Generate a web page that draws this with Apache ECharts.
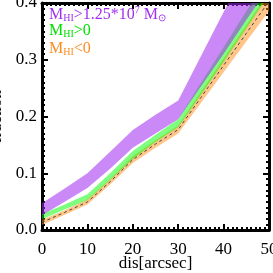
<!DOCTYPE html>
<html><head><meta charset="utf-8">
<script src="https://cdn.jsdelivr.net/npm/echarts@6/dist/echarts.min.js"></script>
<style>html,body{margin:0;padding:0;background:#fff}#c{width:273px;height:273px}</style>
</head><body><div id="c"></div>
<script>
const xs = [0, 5, 10, 15, 20, 25, 30, 35, 40, 45, 50];
const purpleLow  = [0.026, 0.050, 0.074, 0.108, 0.145, 0.170, 0.195, 0.253, 0.310, 0.370, 0.428];
const purpleHigh = [0.047, 0.073, 0.100, 0.138, 0.176, 0.203, 0.228, 0.306, 0.384, 0.460, 0.540];
const greenLow   = [0.019, 0.036, 0.053, 0.088, 0.125, 0.155, 0.181, 0.238, 0.296, 0.355, 0.414];
const greenHigh  = [0.028, 0.045, 0.063, 0.100, 0.139, 0.168, 0.195, 0.259, 0.322, 0.386, 0.449];
const orangeLow  = [0.009, 0.027, 0.045, 0.080, 0.118, 0.145, 0.170, 0.224, 0.278, 0.332, 0.386];
const orangeHigh = [0.018, 0.035, 0.054, 0.090, 0.130, 0.158, 0.184, 0.243, 0.302, 0.361, 0.420];
const xTicks = [0, 10, 20, 30, 40, 50];
const yTicks = ['0.0', '0.1', '0.2', '0.3', '0.4'];

const mid = (lo, hi) => xs.map((x, i) => [x, (lo[i] + hi[i]) / 2]);

function band(name, lo, hi, color) {
  return {
    type: 'custom', name: name, clip: true, silent: true,
    data: [[xs[0], lo[0]]],
    renderItem: function (params, api) {
      const pts = [];
      for (let i = 0; i < xs.length; i++) pts.push(api.coord([xs[i], hi[i]]));
      for (let i = xs.length - 1; i >= 0; i--) pts.push(api.coord([xs[i], lo[i]]));
      return {type: 'polygon', shape: {points: pts}, style: {fill: color}};
    }
  };
}

const font = 'Liberation Serif';
const axisCommon = {
  type: 'value',
  axisLine: {show: true, onZero: false, lineStyle: {color: '#000', width: 3}},
  axisTick: {show: true, inside: true, length: 6, lineStyle: {color: '#000', width: 2}},
  minorTick: {show: true, splitNumber: 10, length: 3, lineStyle: {color: '#000', width: 2}},
  splitLine: {show: false}
};

function legendText(top, parts, color) {
  return {type: 'text', left: 49, top: top, z: 100, style: {
    text: parts,
    rich: {
      a: {fontFamily: font, fontSize: 16, fill: color, lineHeight: 18, verticalAlign: 'bottom'},
      s: {fontFamily: font, fontSize: 10, fill: color, lineHeight: 10, verticalAlign: 'bottom'},
      p: {fontFamily: font, fontSize: 10, fill: color, lineHeight: 18, verticalAlign: 'top'}
    }
  }};
}

const chart = echarts.init(document.getElementById('c'));
chart.setOption({
  animation: false,
  grid: {left: 42, right: 4, top: 3, bottom: 43, containLabel: false, outerBoundsMode: 'none'},
  xAxis: [
    Object.assign({}, axisCommon, {position: 'bottom', min: 0, max: 50, interval: 10,
      name: 'dis[arcsec]', nameLocation: 'middle', nameGap: 25, nameMoveOverlap: false,
      nameTextStyle: {fontFamily: font, fontSize: 17, color: '#000'},
      axisLabel: {fontFamily: font, fontSize: 17, color: '#000', margin: 11,
        formatter: v => String(xTicks[xTicks.indexOf(v)])}}),
    Object.assign({}, axisCommon, {position: 'top', min: 0, max: 50, interval: 10,
      axisLabel: {show: false}})
  ],
  yAxis: [
    Object.assign({}, axisCommon, {position: 'left', min: 0, max: 0.4, interval: 0.1,
      name: 'fraction', nameLocation: 'middle', nameGap: 37, nameRotate: 90, nameMoveOverlap: false,
      nameTextStyle: {fontFamily: font, fontSize: 17, color: '#000'},
      axisLabel: {fontFamily: font, fontSize: 17, color: '#000', margin: 5,
        formatter: v => yTicks[Math.round(v * 10)]}}),
    Object.assign({}, axisCommon, {position: 'right', min: 0, max: 0.4, interval: 0.1,
      axisLabel: {show: false}})
  ],
  series: [
    band('orange', orangeLow, orangeHigh, 'rgba(255,140,20,0.5)'),
    {type: 'line', name: 'orangeMid', data: mid(orangeLow, orangeHigh), symbol: 'none',
     lineStyle: {color: '#444', width: 1, type: [3, 3]}, silent: true},
    band('green', greenLow, greenHigh, 'rgba(0,255,0,0.5)'),
    band('purple', purpleLow, purpleHigh, 'rgba(160,40,240,0.55)')
  ],
  graphic: [
    legendText(5, '{a|M}{s|HI}{a|>1.25*10}{p|7}{a| M}{s|⊙}', '#a030f0'),
    legendText(23, '{a|M}{s|HI}{a|>0}', '#00e000'),
    legendText(41, '{a|M}{s|HI}{a|<0}', '#ff8c20')
  ]
});
</script></body></html>
